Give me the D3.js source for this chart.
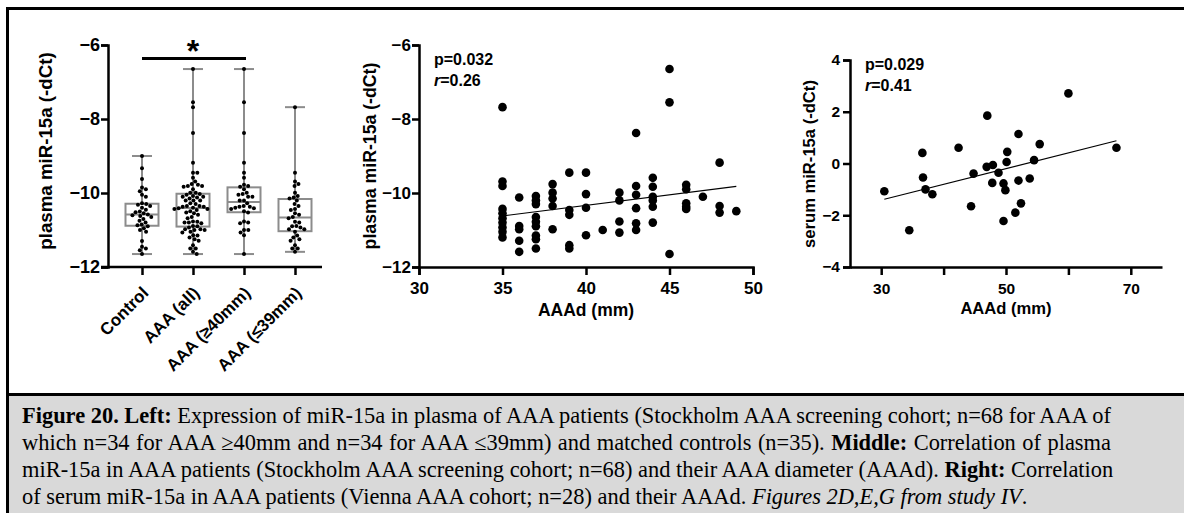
<!DOCTYPE html>
<html><head><meta charset="utf-8">
<script src="https://cdn.jsdelivr.net/npm/d3@7"></script>
<style>body{margin:0;background:#fff} svg{display:block}</style>
</head><body><svg id="c" width="1184" height="513"></svg>
<script>
// ---------------- DATA ----------------
const groupLabels = ["Control", "AAA (all)", "AAA (\u226540mm)", "AAA (\u226439mm)"];
const controlValues = [-9.0, -9.33, -9.62, -9.85, -9.9, -9.95, -10.05, -10.1, -10.28, -10.3, -10.32, -10.35,
  -10.4, -10.45, -10.5, -10.52, -10.55, -10.58, -10.6, -10.62, -10.65, -10.7, -10.75, -10.8, -10.85, -10.87,
  -10.9, -10.95, -11.0, -11.05, -11.3, -11.45, -11.5, -11.55, -11.65];
// Stockholm AAA cohort: diameter (mm) and plasma miR-15a (-dCt)
const aaaDiameter = [
  35,35,35,35,35,35,35,35,35,35,
  36,36,36,36,36,
  37,37,37,37,37,37,37,37,37,
  38,38,38,38,38,
  39,39,39,39,39,
  40,40,40,40,
  41,
  42,42,42,42,
  43,43,43,43,43,43,
  44,44,44,44,44,44,
  45,45,45,
  46,46,46,46,46,
  47,
  48,48,48,
  49];
const aaaPlasma = [
  -7.68,-9.69,-9.81,-10.43,-10.55,-10.68,-10.8,-10.93,-11.05,-11.2,
  -10.12,-10.89,-10.98,-11.29,-11.59,
  -10.08,-10.2,-10.3,-10.65,-10.78,-10.9,-11.15,-11.25,-11.5,
  -9.76,-9.99,-10.15,-10.35,-10.98,
  -9.45,-10.46,-10.59,-11.41,-11.5,
  -9.45,-10.03,-10.4,-11.14,
  -11.0,
  -9.99,-10.2,-10.77,-11.07,
  -8.38,-9.81,-10.05,-10.41,-10.82,-11.0,
  -9.59,-9.83,-10.1,-10.2,-10.37,-10.8,
  -6.65,-7.55,-11.65,
  -9.78,-9.9,-10.28,-10.37,-10.43,
  -10.1,
  -9.18,-10.35,-10.53,
  -10.49];
// Vienna AAA cohort: diameter (mm) and serum miR-15a (-dCt)
const serumDiameter = [30.5,34.5,36.6,36.7,37.1,38.2,42.4,44.4,44.8,46.9,47.0,47.9,47.8,48.8,
  49.6,49.6,49.9,50.1,50.2,51.5,52.0,52.0,52.4,53.8,54.5,55.4,60.0,67.7];
const serumValues = [-1.07,-2.58,0.41,-0.54,-1.0,-1.19,0.61,-1.65,-0.39,-0.13,1.85,-0.06,-0.75,-0.36,
  -0.77,-2.22,-1.03,0.06,0.45,-1.9,1.14,-0.66,-1.54,-0.58,0.13,0.75,2.71,0.61];
// fitted regression lines
const plasmaFitX = [35, 49], plasmaFitY = [-10.62, -9.82];
const serumFitX = [30.5, 67.7], serumFitY = [-1.38, 0.88];
// ticks
const plasmaTicks = [-6, -8, -10, -12];
const plasmaDiamTicks = [30, 35, 40, 45, 50];
const serumTicks = [4, 2, 0, -2, -4];
const serumDiamTicks = [30, 40, 50, 60, 70];
const serumDiamLabels = [30, 50, 70];
const stats = {mid: ["p=0.032", "0.26"], right: ["p=0.029", "0.41"]};

// ---------------- DRAW ----------------
const svg = d3.select("#c");
const SANS = "Liberation Sans, Arial, Helvetica, sans-serif";
svg.append("rect").attr("width", 1184).attr("height", 513).attr("fill", "#fff");

function styleAxis(g, fs) {
  g.selectAll("path.domain").attr("stroke", "#000").attr("stroke-width", 2.5);
  g.selectAll(".tick line").attr("stroke", "#000").attr("stroke-width", 2.5);
  g.selectAll(".tick text").attr("fill", "#000").attr("font-family", SANS)
    .attr("font-weight", "bold").attr("font-size", fs);
}
function title(x, y, rot, txt, fs) {
  svg.append("text").attr("transform", `translate(${x},${y}) rotate(${rot})`).attr("text-anchor", "middle")
    .attr("font-family", SANS).attr("font-weight", "bold").attr("font-size", fs).text(txt);
}

// ---- Left: box plot ----
const yL = d3.scaleLinear().domain([-12, -6]).range([267, 45]);
const xL = d3.scalePoint().domain(groupLabels).range([142, 295]);
const groups = [
  controlValues,
  aaaPlasma.slice(),
  aaaPlasma.filter((v, i) => aaaDiameter[i] >= 40),
  aaaPlasma.filter((v, i) => aaaDiameter[i] < 40)
];

function swarm(values, cx, r) {
  const pts = values.map(v => ({v, y: yL(v)})).sort((a, b) => a.y - b.y);
  const placed = [];
  const d = 2 * r + 0.3;
  for (const p of pts) {
    const cands = [0];
    for (const q of placed) {
      const dy = p.y - q.y;
      if (Math.abs(dy) < d) {
        const dx = Math.sqrt(d * d - dy * dy);
        cands.push(q.x + dx, q.x - dx);
      }
    }
    cands.sort((a, b) => Math.abs(a) - Math.abs(b));
    let best = 0;
    for (const c of cands) {
      if (placed.every(q => (q.x - c) ** 2 + (q.y - p.y) ** 2 >= d * d - 1e-6)) { best = c; break; }
    }
    p.x = best; placed.push(p);
  }
  return placed.map(p => ({x: cx + p.x, y: p.y}));
}

const boxG = svg.append("g");
groups.forEach((vals, gi) => {
  const cx = xL(groupLabels[gi]);
  const s = vals.slice().sort(d3.ascending);
  const q1 = d3.quantile(s, 0.25), q3 = d3.quantile(s, 0.75), med = d3.quantile(s, 0.5);
  const mn = s[0], mx = s[s.length - 1];
  const g = boxG.append("g");
  const gray = "#8c8c8c";
  g.append("line").attr("x1", cx).attr("x2", cx).attr("y1", yL(mx)).attr("y2", yL(q3)).attr("stroke", gray).attr("stroke-width", 2);
  g.append("line").attr("x1", cx).attr("x2", cx).attr("y1", yL(q1)).attr("y2", yL(mn)).attr("stroke", gray).attr("stroke-width", 2);
  [mx, mn].forEach(v => g.append("line").attr("x1", cx - 10).attr("x2", cx + 10).attr("y1", yL(v)).attr("y2", yL(v)).attr("stroke", gray).attr("stroke-width", 2));
  g.append("rect").attr("x", cx - 16.5).attr("width", 33).attr("y", yL(q3)).attr("height", yL(q1) - yL(q3))
    .attr("fill", "none").attr("stroke", gray).attr("stroke-width", 2);
  g.append("line").attr("x1", cx - 16.5).attr("x2", cx + 16.5).attr("y1", yL(med)).attr("y2", yL(med)).attr("stroke", gray).attr("stroke-width", 2);
  g.selectAll("circle").data(swarm(vals, cx, 2.0)).join("circle")
    .attr("cx", d => d.x).attr("cy", d => d.y).attr("r", 2.0).attr("fill", "#000");
});

const axLy = svg.append("g").attr("transform", "translate(108,0)")
  .call(d3.axisLeft(yL).tickValues(plasmaTicks).tickSize(7).tickPadding(1).tickFormat(d3.format("d")));
styleAxis(axLy, 18);
const axLx = svg.append("g").attr("transform", "translate(0,267)")
  .call(d3.axisBottom(xL).tickSize(8).tickSizeOuter(0).tickPadding(0));
axLx.select("path.domain").attr("d", "M101,0H322");
styleAxis(axLx, 17);
axLx.selectAll(".tick text").attr("text-anchor", "end").attr("dy", null).attr("y", 0)
  .attr("transform", "translate(7,27) rotate(-45)");
title(52, 151, -90, "plasma miR-15a (-dCt)", 18.7);
// significance bar
svg.append("line").attr("x1", xL(groupLabels[0])).attr("x2", xL(groupLabels[2]) + 2).attr("y1", 58.5).attr("y2", 58.5)
  .attr("stroke", "#000").attr("stroke-width", 3);
svg.append("text").attr("x", (xL(groupLabels[0]) + xL(groupLabels[2])) / 2).attr("y", 62).attr("text-anchor", "middle")
  .attr("font-family", SANS).attr("font-weight", "bold").attr("font-size", 32).text("*");

// ---- Middle scatter ----
const xM = d3.scaleLinear().domain([30, 50]).range([419, 753]);
const yM = d3.scaleLinear().domain([-12, -6]).range([267, 45]);
svg.append("line").attr("x1", xM(plasmaFitX[0])).attr("x2", xM(plasmaFitX[1]))
  .attr("y1", yM(plasmaFitY[0])).attr("y2", yM(plasmaFitY[1])).attr("stroke", "#000").attr("stroke-width", 1.2);
svg.append("g").selectAll("circle").data(aaaPlasma).join("circle")
  .attr("cx", (d, i) => xM(aaaDiameter[i])).attr("cy", d => yM(d)).attr("r", 4.3).attr("fill", "#000");
const axMy = svg.append("g").attr("transform", "translate(419,0)")
  .call(d3.axisLeft(yM).tickValues(plasmaTicks).tickSize(7).tickPadding(1).tickFormat(d3.format("d")));
styleAxis(axMy, 17);
const axMx = svg.append("g").attr("transform", "translate(0,267)")
  .call(d3.axisBottom(xM).tickValues(plasmaDiamTicks).tickSize(8).tickSizeOuter(8).tickPadding(7));
styleAxis(axMx, 17);
title(376, 156, -90, "plasma miR-15a (-dCt)", 17.7);
title(xM(40), 315.5, 0, "AAAd (mm)", 17.5);

function statText(x, y1, y2, st) {
  svg.append("text").attr("x", x).attr("y", y1).attr("font-family", SANS).attr("font-weight", "bold").attr("font-size", 16).text(st[0]);
  const t = svg.append("text").attr("x", x).attr("y", y2).attr("font-family", SANS).attr("font-weight", "bold").attr("font-size", 16);
  t.append("tspan").attr("font-style", "italic").text("r");
  t.append("tspan").text("=" + st[1]);
}
statText(434, 65, 86, stats.mid);

// ---- Right scatter ----
const xR = d3.scaleLinear().domain([25, 75]).range([850, 1162]);
const yR = d3.scaleLinear().domain([-4, 4]).range([267, 60]);
svg.append("line").attr("x1", xR(serumFitX[0])).attr("x2", xR(serumFitX[1]))
  .attr("y1", yR(serumFitY[0])).attr("y2", yR(serumFitY[1])).attr("stroke", "#000").attr("stroke-width", 1.2);
svg.append("g").selectAll("circle").data(serumValues).join("circle")
  .attr("cx", (d, i) => xR(serumDiameter[i])).attr("cy", d => yR(d)).attr("r", 4.3).attr("fill", "#000");
const axRy = svg.append("g").attr("transform", "translate(850,0)")
  .call(d3.axisLeft(yR).tickValues(serumTicks).tickSize(7).tickPadding(3).tickFormat(d3.format("d")));
styleAxis(axRy, 15.5);
const axRx = svg.append("g").attr("transform", "translate(0,267)")
  .call(d3.axisBottom(xR).tickValues(serumDiamTicks).tickSize(8).tickSizeOuter(0).tickPadding(8)
    .tickFormat(d => serumDiamLabels.includes(d) ? d : ""));
styleAxis(axRx, 15.5);
title(815, 164, -90, "serum miR-15a (-dCt)", 16.6);
title(xR(50), 314, 0, "AAAd (mm)", 16.6);
statText(865, 70, 91, stats.right);

// ---- Frame & caption ----
svg.append("rect").attr("x", 9).attr("y", 396).attr("width", 1175).attr("height", 117).attr("fill", "#d9d9d9");
svg.append("line").attr("x1", 6).attr("x2", 1184).attr("y1", 8.5).attr("y2", 8.5).attr("stroke", "#000").attr("stroke-width", 3);
svg.append("line").attr("x1", 7.5).attr("x2", 7.5).attr("y1", 7).attr("y2", 513).attr("stroke", "#000").attr("stroke-width", 3);
svg.append("line").attr("x1", 6).attr("x2", 1184).attr("y1", 394.5).attr("y2", 394.5).attr("stroke", "#000").attr("stroke-width", 3);

const captionLines = [
  [["b", "Figure 20. Left:"], ["n", " Expression of miR-15a in plasma of AAA patients (Stockholm AAA screening cohort; n=68 for AAA of"]],
  [["n", "which n=34 for AAA \u226540mm and n=34 for AAA \u226439mm) and matched controls (n=35). "], ["b", "Middle:"], ["n", " Correlation of plasma"]],
  [["n", "miR-15a in AAA patients (Stockholm AAA screening cohort; n=68) and their AAA diameter (AAAd). "], ["b", "Right:"], ["n", " Correlation"]],
  [["n", "of serum miR-15a in AAA patients (Vienna AAA cohort; n=28) and their AAAd. "], ["i", "Figures 2D,E,G from study IV"], ["n", "."]]
];
const SERIF = "Liberation Serif, Times New Roman, serif";
const capX = 22, capRight = 1111;
let fs = 20;
const lineEls = captionLines.map((parts, li) => {
  const t = svg.append("text").attr("x", capX).attr("y", 423 + li * 27)
    .attr("font-family", SERIF).attr("font-size", fs).attr("fill", "#000");
  parts.forEach(([k, s]) => {
    const ts = t.append("tspan").text(s);
    if (k === "b") ts.attr("font-weight", "bold");
    if (k === "i") ts.attr("font-style", "italic");
  });
  return t;
});
// fit font size using last line (natural width ~1006px)
const w4 = lineEls[3].node().getComputedTextLength();
fs = fs * 1006 / w4;
lineEls.forEach(t => t.attr("font-size", fs));
lineEls.slice(0, 3).forEach(t => {
  const w = t.node().getComputedTextLength();
  const nSp = (t.text().match(/ /g) || []).length;
  t.attr("word-spacing", Math.max(0, (capRight - capX - w) / nSp));
});
</script>
</body></html>
